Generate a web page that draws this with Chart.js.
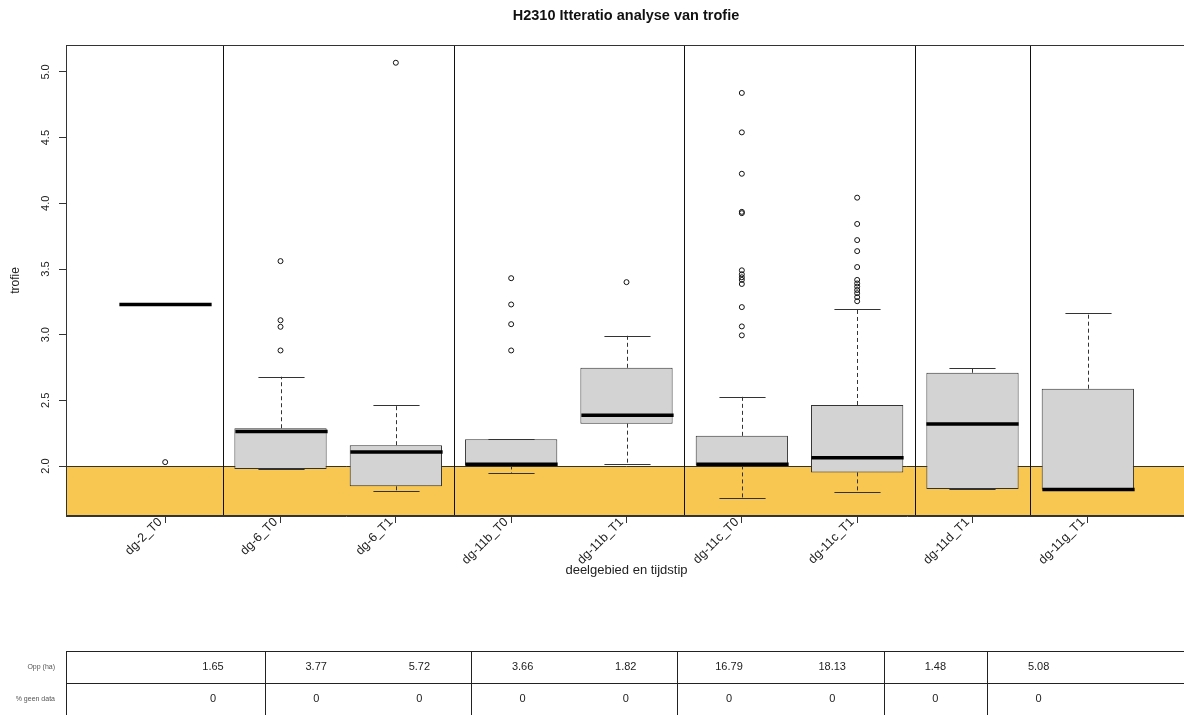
<!DOCTYPE html>
<html>
<head>
<meta charset="utf-8">
<script src="https://cdn.jsdelivr.net/npm/chart.js@4.4.1/dist/chart.umd.min.js"></script>
<style>
  html, body { margin: 0; padding: 0; background: #fff; }
  #wrap { position: relative; width: 1184px; height: 715px; overflow: hidden; font-family: "Liberation Sans", Arial, sans-serif; }
  #chart { position: absolute; left: 0; top: 0; }
  #title { position: absolute; left: 66px; width: 1120px; top: 7px; text-align: center; font-weight: bold; font-size: 14.5px; color: #111; }
  .tline { position: absolute; background: #222; }
  .cell { position: absolute; width: 90px; margin-left: -45px; text-align: center; font-size: 11px; color: #222; }
  .rowlab { position: absolute; right: 1129px; font-size: 7px; color: #555; white-space: nowrap; }
</style>
</head>
<body>
<div id="wrap">
  <canvas id="chart" width="1192" height="715"></canvas>
  <div id="title">H2310 Itteratio analyse van trofie</div>
  <div id="table"></div>
</div>
<script>
// categorieën (deelgebied + tijdstip)
const categories = ['dg-2_T0', 'dg-6_T0', 'dg-6_T1', 'dg-11b_T0', 'dg-11b_T1', 'dg-11c_T0', 'dg-11c_T1', 'dg-11d_T1', 'dg-11g_T1'];

// boxplot statistieken
const whiskerLow  = [3.23, 1.977, 1.808, 1.945, 2.013, 1.755, 1.800, 1.826, 1.815];
const boxLow      = [3.23, 1.977, 1.846, 2.005, 2.323, 2.005, 1.952, 1.826, 1.822];
const medians     = [3.23, 2.263, 2.108, 2.013, 2.386, 2.013, 2.063, 2.320, 1.822];
const boxHigh     = [3.23, 2.288, 2.159, 2.205, 2.748, 2.230, 2.465, 2.710, 2.589];
const whiskerHigh = [3.23, 2.680, 2.467, 2.205, 2.992, 2.528, 3.195, 2.748, 3.166];
const outliers = [
  [2.03],
  [3.56, 3.11, 3.06, 2.88],
  [5.07],
  [3.43, 3.23, 3.08, 2.88],
  [3.40],
  [4.84, 4.54, 4.225, 3.935, 3.925, 3.49, 3.46, 3.437, 3.417, 3.386, 3.21, 3.063, 2.995],
  [4.043, 3.843, 3.72, 3.636, 3.515, 3.417, 3.39, 3.366, 3.34, 3.316, 3.286, 3.255],
  [],
  []
];

// grenswaarde (oranje zone)
const threshold = 2.0;

// y-as ticks
const yTickValues = [2.0, 2.5, 3.0, 3.5, 4.0, 4.5, 5.0];
const yTickLabels = ['2.0', '2.5', '3.0', '3.5', '4.0', '4.5', '5.0'];

// tabel onder de grafiek
const rowLabels = ['Opp (ha)', '% geen data'];
const areaHa = ['1.65', '3.77', '5.72', '3.66', '1.82', '16.79', '18.13', '1.48', '5.08'];
const pctNoData = ['0', '0', '0', '0', '0', '0', '0', '0', '0'];

const FONT = '"Liberation Sans", Arial, sans-serif';
const TXT = '#222';
const bandColor = '#F8C752';

// deelgebied = alles voor de laatste '_'
const groupOf = c => c.slice(0, c.lastIndexOf('_'));

const boxParts = {
  id: 'boxParts',
  beforeDatasetsDraw(chart) {
    const { ctx, chartArea: a, scales: { x, y } } = chart;
    const yT = y.getPixelForValue(threshold);
    ctx.save();
    // oranje zone onder de grenswaarde
    ctx.fillStyle = bandColor;
    ctx.fillRect(a.left, yT, a.right - a.left, a.bottom - yT);
    ctx.strokeStyle = '#333';
    ctx.lineWidth = 1;
    ctx.beginPath();
    ctx.moveTo(a.left, Math.round(yT) + 0.5);
    ctx.lineTo(a.right, Math.round(yT) + 0.5);
    ctx.stroke();
    // scheidingslijnen tussen deelgebieden
    ctx.strokeStyle = '#111';
    categories.forEach((c, i) => {
      if (i > 0 && groupOf(c) !== groupOf(categories[i - 1])) {
        const px = Math.round(x.getPixelForValue(i - 0.5)) + 0.5;
        ctx.beginPath();
        ctx.moveTo(px, a.top);
        ctx.lineTo(px, a.bottom);
        ctx.stroke();
      }
    });
    ctx.restore();
  },
  afterDatasetsDraw(chart) {
    const { ctx, chartArea: a, scales: { x, y } } = chart;
    const bars = chart.getDatasetMeta(0).data;
    ctx.save();
    bars.forEach((bar, i) => {
      const cx = Math.round(x.getPixelForValue(i)) + 0.5;
      const half = bar.width / 2;
      const cap = half / 2;
      // snorharen (gestippeld)
      ctx.strokeStyle = '#333';
      ctx.lineWidth = 1;
      ctx.setLineDash([4, 3]);
      ctx.beginPath();
      ctx.moveTo(cx, y.getPixelForValue(boxHigh[i]));
      ctx.lineTo(cx, y.getPixelForValue(whiskerHigh[i]));
      ctx.moveTo(cx, y.getPixelForValue(boxLow[i]));
      ctx.lineTo(cx, y.getPixelForValue(whiskerLow[i]));
      ctx.stroke();
      // kapjes
      ctx.setLineDash([]);
      ctx.beginPath();
      [whiskerHigh[i], whiskerLow[i]].forEach(v => {
        const py = Math.round(y.getPixelForValue(v)) + 0.5;
        ctx.moveTo(cx - cap, py);
        ctx.lineTo(cx + cap, py);
      });
      ctx.stroke();
      // mediaan
      ctx.strokeStyle = '#000';
      ctx.lineWidth = 3.5;
      ctx.beginPath();
      const pm = y.getPixelForValue(medians[i]);
      ctx.moveTo(cx - half, pm);
      ctx.lineTo(cx + half, pm);
      ctx.stroke();
    });
    // kader rond plot
    ctx.strokeStyle = '#333';
    ctx.lineWidth = 1;
    ctx.strokeRect(a.left + 0.5, a.top + 0.5, a.right - a.left - 1, a.bottom - a.top - 1);
    ctx.restore();
  }
};

new Chart(document.getElementById('chart').getContext('2d'), {
  type: 'bar',
  data: {
    datasets: [
      {
        label: 'box',
        data: categories.map((c, i) => ({ x: i, y: [boxLow[i], boxHigh[i]] })),
        backgroundColor: '#D3D3D3',
        borderColor: '#333',
        borderWidth: 1,
        borderSkipped: false,
        barPercentage: 0.8,
        categoryPercentage: 1.0,
        grouped: false
      },
      {
        type: 'scatter',
        label: 'uitschieters',
        data: outliers.flatMap((vals, i) => vals.map(v => ({ x: i, y: v }))),
        pointStyle: 'circle',
        pointRadius: 2.5,
        borderColor: '#111',
        borderWidth: 1,
        backgroundColor: 'rgba(0,0,0,0)'
      }
    ]
  },
  options: {
    responsive: false,
    animation: false,
    layout: { padding: { top: 45, right: 0, bottom: 137, left: 0 } },
    plugins: { legend: { display: false }, tooltip: { enabled: false }, title: { display: false } },
    scales: {
      x: {
        type: 'linear',
        min: -0.86,
        max: 8.86,
        offset: false,
        afterBuildTicks: s => { s.ticks = categories.map((c, i) => ({ value: i })); },
        afterFit: s => { s.height = 62; },
        ticks: {
          autoSkip: false,
          minRotation: 45,
          maxRotation: 45,
          padding: -13,
          color: TXT,
          font: { family: FONT, size: 12.5 },
          // twee spaties achteraan: tekst eindigt net links van het streepje
          callback: (v, idx) => categories[idx] + '  '
        },
        grid: { display: true, offset: false, drawOnChartArea: false, drawTicks: true, tickLength: 7, color: '#333' },
        border: { display: true, color: '#333' },
        title: { display: true, text: 'deelgebied en tijdstip', color: TXT, font: { family: FONT, size: 13 }, padding: { top: 0, bottom: 0 } }
      },
      y: {
        min: 1.62,
        max: 5.205,
        afterBuildTicks: s => { s.ticks = yTickValues.map(v => ({ value: v })); },
        afterFit: s => { s.width = 66; },
        ticks: {
          minRotation: 90,
          maxRotation: 90,
          crossAlign: 'center',
          padding: 5,
          color: TXT,
          font: { family: FONT, size: 11 },
          callback: (v, idx) => yTickLabels[idx]
        },
        grid: { display: true, drawOnChartArea: false, drawTicks: true, tickLength: 7, color: '#333' },
        border: { display: true, color: '#333' },
        title: { display: true, text: 'trofie', color: TXT, font: { family: FONT, size: 12 }, padding: { top: 8, bottom: 0 } }
      }
    }
  },
  plugins: [boxParts]
});

// tabel opbouwen
const table = document.getElementById('table');
const tTop = 651, rowH = 32, tLeft = 66, colX0 = 213, colW = 103.2;
function addLine(l, t, w, h) {
  const d = document.createElement('div');
  d.className = 'tline';
  d.style.cssText = `left:${l}px;top:${t}px;width:${w}px;height:${h}px`;
  table.appendChild(d);
}
addLine(tLeft, tTop, 1184 - tLeft, 1);
addLine(tLeft, tTop + rowH, 1184 - tLeft, 1);
addLine(tLeft, tTop, 1, 715 - tTop);
categories.forEach((c, i) => {
  if (i > 0 && groupOf(c) !== groupOf(categories[i - 1])) {
    addLine(Math.round(colX0 + colW * (i - 0.5)), tTop, 1, 715 - tTop);
  }
});
[areaHa, pctNoData].forEach((row, r) => {
  const lab = document.createElement('div');
  lab.className = 'rowlab';
  lab.textContent = rowLabels[r];
  lab.style.top = (tTop + r * rowH + 12) + 'px';
  table.appendChild(lab);
  row.forEach((v, i) => {
    const d = document.createElement('div');
    d.className = 'cell';
    d.textContent = v;
    d.style.left = (colX0 + colW * i) + 'px';
    d.style.top = (tTop + r * rowH + 9) + 'px';
    table.appendChild(d);
  });
});
</script>
</body>
</html>
